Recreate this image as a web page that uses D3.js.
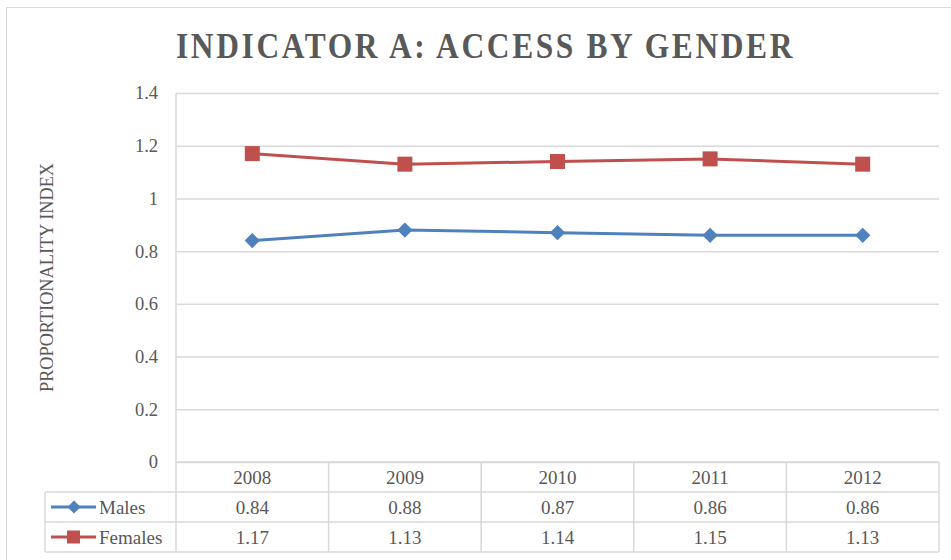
<!DOCTYPE html>
<html>
<head>
<meta charset="utf-8">
<script src="https://cdn.jsdelivr.net/npm/d3@7/dist/d3.min.js"></script>
<style>
	body { margin: 0; background: #fff; }
	svg { display: block; }
	text { font-family: "Liberation Serif", "DejaVu Serif", serif; fill: #595959; }
</style>
</head>
<body>
<div id="chart"></div>
<script>
// data
var years = ["2008", "2009", "2010", "2011", "2012"];
var males = [0.84, 0.88, 0.87, 0.86, 0.86];
var females = [1.17, 1.13, 1.14, 1.15, 1.13];
var yTicks = [0, 0.2, 0.4, 0.6, 0.8, 1, 1.2, 1.4];
var seriesNames = ["Males", "Females"];

var W = 951, H = 560;
var GRID = "#d9d9d9";
var COLORS = { Males: "#4f81bd", Females: "#c0504d" };

var svg = d3.select("#chart").append("svg")
	.attr("width", W)
	.attr("height", H);

// outer chart frame
svg.append("rect")
	.attr("x", 6.5).attr("y", 7.5)
	.attr("width", W).attr("height", H)
	.attr("fill", "none")
	.attr("stroke", GRID);

var plot = { left: 176, right: 939, top: 93, bottom: 462 };
var rowH = 30;
var tableLeft = 45;

var x = d3.scaleBand()
	.domain(years)
	.range([plot.left, plot.right]);
var y = d3.scaleLinear()
	.domain([0, 1.4])
	.range([plot.bottom, plot.top]);

// title (condensed look: squeeze to the reference width)
svg.append("text")
	.attr("x", 176).attr("y", 58)
	.attr("textLength", 619)
	.attr("lengthAdjust", "spacingAndGlyphs")
	.style("font-size", "36px")
	.style("font-weight", "bold")
	.style("letter-spacing", "3px")
	.text("INDICATOR A: ACCESS BY GENDER");

// gridlines + y axis
var yAxis = d3.axisLeft(y)
	.tickValues(yTicks)
	.tickSize(-(plot.right - plot.left))
	.tickPadding(18)
	.tickFormat(d => d3.format("")(+d.toFixed(1)));

var gy = svg.append("g")
	.attr("transform", `translate(${plot.left},0)`)
	.call(yAxis);
gy.select(".domain").remove();
gy.selectAll(".tick line").attr("stroke", GRID).attr("stroke-width", 1.5);
gy.selectAll(".tick text")
	.style("font-size", "18.5px")
	.attr("fill", "#595959");

// left plot border
svg.append("line")
	.attr("x1", plot.left).attr("x2", plot.left)
	.attr("y1", plot.top).attr("y2", plot.bottom + rowH * 3)
	.attr("stroke", GRID).attr("stroke-width", 1.5);

// y axis title
svg.append("text")
	.attr("transform", `translate(53,${(plot.top + plot.bottom) / 2}) rotate(-90)`)
	.attr("text-anchor", "middle")
	.attr("textLength", 229)
	.attr("lengthAdjust", "spacingAndGlyphs")
	.style("font-size", "18px")
	.text("PROPORTIONALITY INDEX");

// lines + markers
var line = d3.line()
	.x((d, i) => x(years[i]) + x.bandwidth() / 2)
	.y(d => y(d));

var seriesData = [
	{ name: "Males", values: males },
	{ name: "Females", values: females }
];

seriesData.forEach(s => {
	svg.append("path")
		.datum(s.values)
		.attr("d", line)
		.attr("fill", "none")
		.attr("stroke", COLORS[s.name])
		.attr("stroke-width", 3);
});

var diamond = d3.symbol().type(d3.symbolDiamond2).size(150);
svg.append("g").selectAll("path")
	.data(males)
	.join("path")
	.attr("transform", (d, i) => `translate(${x(years[i]) + x.bandwidth() / 2},${y(d)})`)
	.attr("d", diamond)
	.attr("fill", COLORS.Males);

svg.append("g").selectAll("rect")
	.data(females)
	.join("rect")
	.attr("x", (d, i) => x(years[i]) + x.bandwidth() / 2 - 7.5)
	.attr("y", d => y(d) - 7.5)
	.attr("width", 15).attr("height", 15)
	.attr("fill", COLORS.Females);

// data table
var table = svg.append("g");
function rule(x1, y1, x2, y2) {
	table.append("line")
		.attr("x1", x1).attr("y1", y1)
		.attr("x2", x2).attr("y2", y2)
		.attr("stroke", GRID).attr("stroke-width", 1.5);
}
rule(plot.left, plot.bottom, plot.right, plot.bottom);
rule(tableLeft, plot.bottom + rowH, plot.right, plot.bottom + rowH);
rule(tableLeft, plot.bottom + rowH * 2, plot.right, plot.bottom + rowH * 2);
rule(tableLeft, plot.bottom + rowH * 3, plot.right, plot.bottom + rowH * 3);
years.forEach(yr => {
	var xr = x(yr) + x.bandwidth();
	rule(xr, plot.bottom, xr, plot.bottom + rowH * 3);
});
rule(tableLeft, plot.bottom + rowH, tableLeft, plot.bottom + rowH * 3);

// header labels
table.selectAll(".yr")
	.data(years)
	.join("text")
	.attr("class", "yr")
	.attr("x", d => x(d) + x.bandwidth() / 2)
	.attr("y", plot.bottom + rowH / 2 + 6.5)
	.attr("text-anchor", "middle")
	.style("font-size", "19px")
	.text(d => d);

seriesData.forEach((s, r) => {
	var cy = plot.bottom + rowH * (r + 1) + rowH / 2;
	table.selectAll(".v" + r)
		.data(s.values)
		.join("text")
		.attr("x", (d, i) => x(years[i]) + x.bandwidth() / 2)
		.attr("y", cy + 6.5)
		.attr("text-anchor", "middle")
		.style("font-size", "19px")
		.text(d => d3.format(".2f")(d));

	// legend key
	table.append("line")
		.attr("x1", 51).attr("x2", 96)
		.attr("y1", cy).attr("y2", cy)
		.attr("stroke", COLORS[s.name]).attr("stroke-width", 3);
	if (s.name === "Males") {
		table.append("path")
			.attr("transform", `translate(74,${cy})`)
			.attr("d", d3.symbol().type(d3.symbolDiamond2).size(110))
			.attr("fill", COLORS[s.name]);
	} else {
		table.append("rect")
			.attr("x", 67).attr("y", cy - 6.5)
			.attr("width", 13).attr("height", 13)
			.attr("fill", COLORS[s.name]);
	}
	table.append("text")
		.attr("x", 99).attr("y", cy + 6.5)
		.style("font-size", "19px")
		.text(s.name);
});
</script>
</body>
</html>
